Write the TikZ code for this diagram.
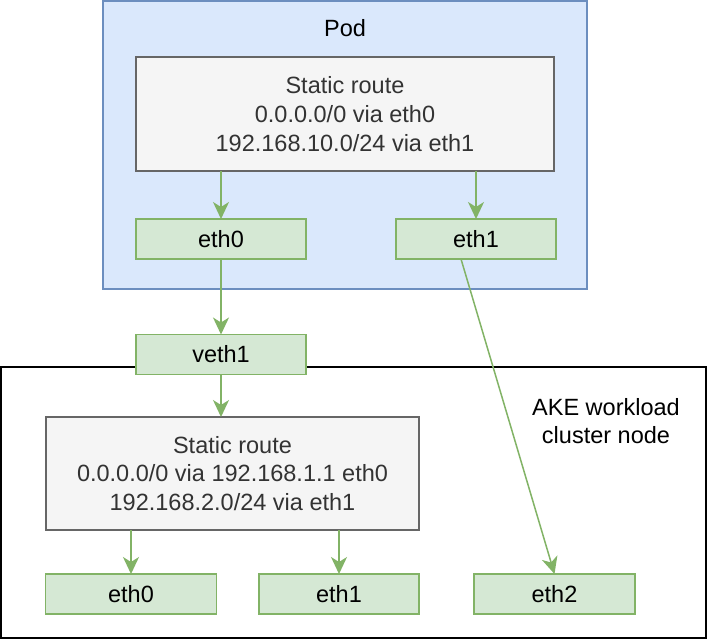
\documentclass[tikz,border=0pt]{standalone}
\usepackage{fontspec}
\setmainfont{Liberation Sans}
\usetikzlibrary{arrows.meta}

\definecolor{podfill}{HTML}{DAE8FC}
\definecolor{poddraw}{HTML}{6C8EBF}
\definecolor{routefill}{HTML}{F5F5F5}
\definecolor{routedraw}{HTML}{666666}
\definecolor{nicfill}{HTML}{D5E8D4}
\definecolor{nicdraw}{HTML}{82B366}
\definecolor{routetext}{HTML}{333333}

\begin{document}
\begin{tikzpicture}[
    x=1pt, y=-1pt,
    line join=miter,
    every node/.style={font=\fontsize{23.5}{28.7}\selectfont,inner sep=0pt,outer sep=0pt},
    podbox/.style={draw=poddraw,fill=podfill,line width=1.6pt},
    hostbox/.style={draw=black,fill=white,line width=2pt},
    routebox/.style={draw=routedraw,fill=routefill,line width=1.6pt,
        text=routetext,align=center},
    nic/.style={draw=nicdraw,fill=nicfill,line width=1.6pt,
        minimum height=40pt},
    flow/.style={draw=nicdraw,line width=1.5pt,
        -{Stealth[length=17pt,width=16pt,inset=5pt]}}
]
    \useasboundingbox (0,0) rectangle (708,642);

    % Workload cluster node, drawn first so veth1 sits on its border.
    \node[hostbox,minimum width=705pt,minimum height=271pt] (host) at (353.5,502.5) {};
    \node[align=center] (hostlabel) at (606,421) {AKE workload\\cluster node};

    % The pod and its own routing table.
    \node[podbox,minimum width=484pt,minimum height=288pt] (pod) at (345,145) {};
    \node (podlabel) at (345,28) {Pod};
    \node[routebox,minimum width=418pt,minimum height=114pt] (podroute) at (345,114)
        {Static route\\0.0.0.0/0 via eth0\\192.168.10.0/24 via eth1};
    \node[nic,minimum width=170pt] (podeth0) at (221,239) {eth0};
    \node[nic,minimum width=160pt] (podeth1) at (476,239) {eth1};

    % Host side interfaces.
    \node[nic,minimum width=170pt] (veth) at (221,354.5) {veth1};
    \node[routebox,minimum width=373pt,minimum height=113pt] (hostroute) at (232.5,473.5)
        {Static route\\0.0.0.0/0 via 192.168.1.1 eth0\\192.168.2.0/24 via eth1};
    \node[nic,minimum width=171pt] (hosteth0) at (131,594) {eth0};
    \node[nic,minimum width=160pt] (hosteth1) at (339,594) {eth1};
    \node[nic,minimum width=161pt] (hosteth2) at (554.5,594) {eth2};

    % Packet paths.
    \draw[flow] (podeth0 |- podroute.south) -- (podeth0.north);
    \draw[flow] (podeth1 |- podroute.south) -- (podeth1.north);
    \draw[flow] (podeth0.south) -- (veth.north);
    \draw[flow] (veth.south) -- (veth |- hostroute.north);
    \draw[flow] (hosteth0 |- hostroute.south) -- (hosteth0.north);
    \draw[flow] (hosteth1 |- hostroute.south) -- (hosteth1.north);
    \draw[flow] ([xshift=-15pt]podeth1.south) -- (hosteth2.north);
\end{tikzpicture}
\end{document}
